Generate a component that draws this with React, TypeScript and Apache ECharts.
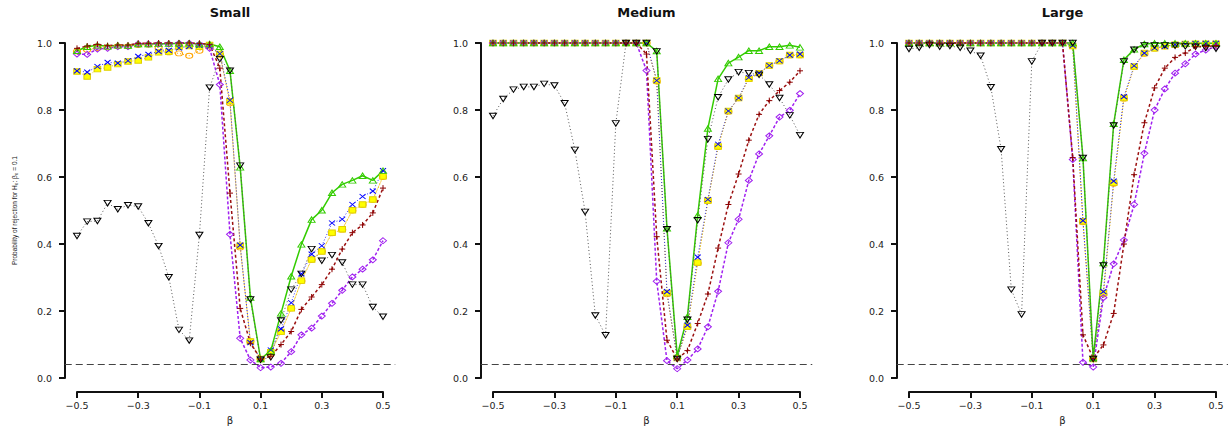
import React, { useEffect, useRef } from "react";
import * as echarts from "echarts";

// beta grid (x values)
const betaValues = [-0.5, -0.4667, -0.4333, -0.4, -0.3667, -0.3333, -0.3, -0.2667, -0.2333, -0.2, -0.1667, -0.1333, -0.1, -0.0667, -0.0333, 0, 0.0333, 0.0667, 0.1, 0.1333, 0.1667, 0.2, 0.2333, 0.2667, 0.3, 0.3333, 0.3667, 0.4, 0.4333, 0.4667, 0.5];

const panelTitles = ["Small", "Medium", "Large"];
const nullLevel = 0.05;

// ---- Small ----
const smallBlack = [0.424, 0.467, 0.469, 0.522, 0.504, 0.516, 0.512, 0.462, 0.394, 0.301, 0.144, 0.112, 0.427, 0.867, 0.952, 0.917, 0.634, 0.235, 0.055, 0.062, 0.172, 0.264, 0.311, 0.385, 0.35, 0.367, 0.345, 0.279, 0.279, 0.212, 0.183];
const smallGreen = [0.977, 0.989, 0.993, 0.99, 0.993, 0.992, 0.997, 0.997, 0.998, 0.998, 0.999, 0.999, 0.997, 0.997, 0.989, 0.917, 0.629, 0.24, 0.057, 0.082, 0.193, 0.304, 0.399, 0.473, 0.501, 0.553, 0.578, 0.59, 0.604, 0.59, 0.619];
const smallBlue = [0.917, 0.913, 0.93, 0.942, 0.94, 0.947, 0.96, 0.966, 0.975, 0.978, 0.985, 0.99, 0.993, 0.99, 0.968, 0.829, 0.397, 0.106, 0.057, 0.084, 0.147, 0.225, 0.311, 0.37, 0.395, 0.463, 0.474, 0.518, 0.542, 0.558, 0.619];
const smallYellow = [0.915, 0.9, 0.922, 0.927, 0.937, 0.945, 0.948, 0.957, 0.972, 0.974, 0.989, 0.991, 0.989, 0.994, 0.967, 0.826, 0.395, 0.109, 0.057, 0.077, 0.138, 0.208, 0.291, 0.354, 0.378, 0.434, 0.444, 0.501, 0.518, 0.533, 0.602];
const smallOrange = [0.975, 0.98, 0.985, 0.987, 0.99, 0.99, 0.994, 0.995, 0.986, 0.972, 0.969, 0.962, 0.977, 0.99, 0.965, 0.82, 0.39, 0.11, 0.057, 0.077, 0.138, 0.208, 0.29, 0.353, 0.378, 0.432, 0.443, 0.5, 0.517, 0.532, 0.6];
const smallRed = [0.984, 0.991, 0.996, 0.992, 0.994, 0.994, 0.999, 0.999, 1.0, 1.0, 1.0, 1.0, 0.999, 0.996, 0.925, 0.552, 0.208, 0.104, 0.057, 0.065, 0.1, 0.139, 0.205, 0.242, 0.279, 0.325, 0.385, 0.434, 0.457, 0.493, 0.567];
const smallPurple = [0.967, 0.966, 0.982, 0.984, 0.989, 0.989, 0.997, 0.997, 0.997, 0.997, 0.999, 0.999, 0.996, 0.984, 0.876, 0.429, 0.119, 0.054, 0.031, 0.033, 0.044, 0.079, 0.129, 0.149, 0.185, 0.223, 0.262, 0.302, 0.325, 0.353, 0.41];

// ---- Medium ----
const mediumBlack = [0.782, 0.833, 0.861, 0.869, 0.869, 0.878, 0.873, 0.82, 0.681, 0.496, 0.187, 0.128, 0.76, 1.0, 1.0, 1.0, 0.975, 0.444, 0.057, 0.174, 0.471, 0.713, 0.838, 0.891, 0.913, 0.91, 0.905, 0.876, 0.836, 0.784, 0.725];
const mediumGreen = [1, 1, 1, 1, 1, 1, 1, 1, 1, 1, 1, 1, 1, 1, 1, 1, 0.976, 0.447, 0.067, 0.183, 0.486, 0.745, 0.893, 0.94, 0.958, 0.977, 0.977, 0.989, 0.989, 0.993, 0.987];
const mediumBlue = [1, 1, 1, 1, 1, 1, 1, 1, 1, 1, 1, 1, 1, 1, 1, 1, 0.888, 0.258, 0.06, 0.158, 0.361, 0.533, 0.698, 0.797, 0.836, 0.897, 0.91, 0.933, 0.947, 0.964, 0.967];
const mediumYellow = [1, 1, 1, 1, 1, 1, 1, 1, 1, 1, 1, 1, 1, 1, 1, 1, 0.888, 0.254, 0.06, 0.154, 0.345, 0.53, 0.691, 0.797, 0.836, 0.893, 0.91, 0.933, 0.946, 0.964, 0.964];
const mediumOrange = [1, 1, 1, 1, 1, 1, 1, 1, 1, 1, 1, 1, 1, 1, 1, 1, 0.885, 0.25, 0.06, 0.152, 0.343, 0.528, 0.69, 0.795, 0.835, 0.892, 0.909, 0.932, 0.945, 0.963, 0.963];
const mediumRed = [1, 1, 1, 1, 1, 1, 1, 1, 1, 1, 1, 1, 1, 1, 1, 0.967, 0.422, 0.113, 0.057, 0.082, 0.163, 0.251, 0.388, 0.518, 0.609, 0.71, 0.787, 0.828, 0.858, 0.883, 0.917];
const mediumPurple = [1, 1, 1, 1, 1, 1, 1, 1, 1, 1, 1, 1, 1, 1, 1, 0.918, 0.289, 0.052, 0.028, 0.054, 0.087, 0.153, 0.259, 0.404, 0.474, 0.59, 0.669, 0.723, 0.779, 0.799, 0.849];

// ---- Large ----
const largeBlack = [0.982, 0.986, 0.994, 0.989, 0.991, 0.986, 0.977, 0.962, 0.868, 0.683, 0.264, 0.19, 0.945, 1, 1, 1, 1, 0.657, 0.057, 0.336, 0.754, 0.945, 0.98, 0.993, 0.993, 0.993, 0.992, 0.99, 0.989, 0.985, 0.983];
const largeGreen = [1, 1, 1, 1, 1, 1, 1, 1, 1, 1, 1, 1, 1, 1, 1, 1, 1, 0.657, 0.06, 0.343, 0.759, 0.95, 0.981, 0.997, 0.999, 0.999, 0.999, 0.999, 0.999, 0.999, 0.999];
const largeBlue = [1, 1, 1, 1, 1, 1, 1, 1, 1, 1, 1, 1, 1, 1, 1, 1, 0.993, 0.47, 0.057, 0.258, 0.588, 0.84, 0.932, 0.97, 0.985, 0.99, 0.995, 0.997, 0.998, 0.999, 0.999];
const largeYellow = [1, 1, 1, 1, 1, 1, 1, 1, 1, 1, 1, 1, 1, 1, 1, 1, 0.991, 0.468, 0.057, 0.254, 0.583, 0.836, 0.93, 0.97, 0.984, 0.99, 0.995, 0.997, 0.998, 0.998, 0.998];
const largeOrange = [1, 1, 1, 1, 1, 1, 1, 1, 1, 1, 1, 1, 1, 1, 1, 1, 0.99, 0.465, 0.057, 0.25, 0.58, 0.834, 0.928, 0.968, 0.983, 0.99, 0.995, 0.997, 0.998, 0.998, 0.998];
const largeRed = [1, 1, 1, 1, 1, 1, 1, 1, 1, 1, 1, 1, 1, 1, 1, 1, 0.658, 0.129, 0.059, 0.099, 0.193, 0.4, 0.607, 0.762, 0.866, 0.925, 0.957, 0.97, 0.989, 0.99, 0.992];
const largePurple = [1, 1, 1, 1, 1, 1, 1, 1, 1, 1, 1, 1, 1, 1, 1, 1, 0.652, 0.047, 0.033, 0.24, 0.341, 0.412, 0.518, 0.671, 0.8, 0.863, 0.91, 0.938, 0.967, 0.979, 0.989];

const panelData = [
  { orange: smallOrange, yellow: smallYellow, blue: smallBlue, purple: smallPurple, green: smallGreen, black: smallBlack, red: smallRed },
  { orange: mediumOrange, yellow: mediumYellow, blue: mediumBlue, purple: mediumPurple, green: mediumGreen, black: mediumBlack, red: mediumRed },
  { orange: largeOrange, yellow: largeYellow, blue: largeBlue, purple: largePurple, green: largeGreen, black: largeBlack, red: largeRed },
];

// ---- styles (drawing order: first is bottom) ----
const SYM = {
  down: "path://M0,0L7,0L3.5,5.5Z",
  up: "path://M3.5,0L7,5.5L0,5.5Z",
  cross: "path://M0,0L6,5M6,0L0,5",
  plus: "path://M3,0L3,6M0,3L6,3",
  diamond: "path://M3.5,0L7,3L3.5,6L0,3Z",
  circle: "path://M0,2.5A3.5,2.5,0,1,1,7,2.5A3.5,2.5,0,1,1,0,2.5Z",
};

const methodStyles = [
  { key: "orange", stroke: "#ffa500", fill: "rgba(0,0,0,0)", symbol: SYM.circle, size: [7, 5], line: "#ffa500", type: [1, 2], width: 1 },
  { key: "yellow", stroke: "#e0d000", fill: "#ffff00", symbol: "rect", size: [6.5, 5.5], line: "#e6d800", type: [1, 2], width: 1 },
  { key: "blue", stroke: "#0000ff", fill: "rgba(0,0,0,0)", symbol: SYM.cross, size: [6, 5], line: "#3030ff", type: [1, 2], width: 1 },
  { key: "purple", stroke: "#a020f0", fill: "rgba(0,0,0,0)", symbol: SYM.diamond, size: [7, 6], line: "#a020f0", type: [3, 2], width: 1.5 },
  { key: "green", stroke: "#33cc00", fill: "rgba(0,0,0,0)", symbol: SYM.up, size: [7, 5.5], line: "#33cc00", type: "solid", width: 1.5 },
  { key: "black", stroke: "#000000", fill: "rgba(0,0,0,0)", symbol: SYM.down, size: [7, 5.5], line: "#555555", type: [1, 2.5], width: 1 },
  { key: "red", stroke: "#8b0000", fill: "rgba(0,0,0,0)", symbol: SYM.plus, size: [6, 6], line: "#9b1010", type: [3, 2.5], width: 1.5 },
];

// panel layout (pixels)
const panelLeft = [77, 493, 909];
const panelWidth = [306, 307, 307];
const plotTop = 43;
const plotHeight = 338;

const fmtTick = (v: number) => v.toFixed(1).replace("-", "\u2212");

export default function App() {
  const ref = useRef<HTMLDivElement>(null);

  useEffect(() => {
    if (!ref.current) return;
    const chart = echarts.init(ref.current, null, { renderer: "svg" });

    const grid: any[] = [];
    const xAxis: any[] = [];
    const yAxis: any[] = [];
    const series: any[] = [];
    const graphic: any[] = [];

    panelTitles.forEach((title, p) => {
      const L = panelLeft[p];
      const W = panelWidth[p];
      // outer plot region (R's 4% extension)
      grid.push({ left: L - 0.04 * W, top: plotTop - 0.04 * plotHeight, width: 1.08 * W, height: 1.08 * plotHeight });
      // data region with detached axes
      grid.push({ left: L, top: plotTop, width: W, height: plotHeight });

      xAxis.push({ type: "value", gridIndex: 2 * p, min: -0.54, max: 0.54, show: false });
      yAxis.push({ type: "value", gridIndex: 2 * p, min: -0.04, max: 1.04, show: false });

      xAxis.push({
        type: "value",
        gridIndex: 2 * p + 1,
        min: -0.5,
        max: 0.5,
        interval: 0.2,
        offset: 14,
        name: "\u03b2",
        nameLocation: "middle",
        nameGap: 21,
        nameTextStyle: { fontSize: 10, color: "#222", fontFamily: "DejaVu Sans" },
        axisLine: { show: true, onZero: false, lineStyle: { color: "#111", width: 2 } },
        axisTick: { show: true, length: 6, lineStyle: { color: "#111", width: 2 } },
        axisLabel: { fontSize: 9.5, color: "#222", fontFamily: "DejaVu Sans", margin: 8, formatter: fmtTick, showMinLabel: true, showMaxLabel: true },
        splitLine: { show: false },
      });
      yAxis.push({
        type: "value",
        gridIndex: 2 * p + 1,
        min: 0,
        max: 1,
        interval: 0.2,
        offset: 12,
        name: p === 0 ? "Probability of rejection for H\u2080: \u03b2\u2080 = 0.1" : "",
        nameLocation: "middle",
        nameGap: 47,
        nameTextStyle: { fontSize: 6.5, color: "#222", fontFamily: "Liberation Sans" },
        axisLine: { show: true, onZero: false, lineStyle: { color: "#111", width: 2 } },
        axisTick: { show: true, length: 6, lineStyle: { color: "#111", width: 2 } },
        axisLabel: { fontSize: 9.5, color: "#222", fontFamily: "DejaVu Sans", margin: 13, formatter: (v: number) => v.toFixed(1) },
        splitLine: { show: false },
      });

      // reference line at the null level
      series.push({
        type: "line",
        xAxisIndex: 2 * p,
        yAxisIndex: 2 * p,
        data: [],
        silent: true,
        markLine: {
          silent: true,
          symbol: "none",
          animation: false,
          label: { show: false },
          lineStyle: { color: "#444", width: 1, type: [7, 4] },
          data: [{ yAxis: nullLevel }],
        },
      });

      const d: any = panelData[p];
      methodStyles.forEach((m) => {
        const vals: number[] = d[m.key];
        series.push({
          type: "line",
          xAxisIndex: 2 * p + 1,
          yAxisIndex: 2 * p + 1,
          data: betaValues.map((b, i) => [b, vals[i]]),
          symbol: m.symbol,
          symbolSize: m.size,
          showSymbol: true,
          clip: false,
          silent: true,
          itemStyle: { color: m.fill, borderColor: m.stroke, borderWidth: 1 },
          lineStyle: { color: m.line, width: m.width, type: m.type },
          emphasis: { disabled: true },
        });
      });

      graphic.push({
        type: "text",
        x: L + W / 2,
        y: 6,
        style: {
          text: title,
          fontSize: 13,
          fontWeight: "bold",
          fontFamily: "DejaVu Sans",
          fill: "#111",
          textAlign: "center",
          align: "center",
          textVerticalAlign: "top",
          verticalAlign: "top",
        },
      });
    });

    chart.setOption({
      animation: false,
      backgroundColor: "#ffffff",
      grid,
      xAxis,
      yAxis,
      series,
      graphic,
    });

    return () => chart.dispose();
  }, []);

  return (
    <div
      ref={ref}
      style={{ position: "fixed", left: 0, top: 0, width: 1228, height: 430, background: "#fff" }}
    />
  );
}
